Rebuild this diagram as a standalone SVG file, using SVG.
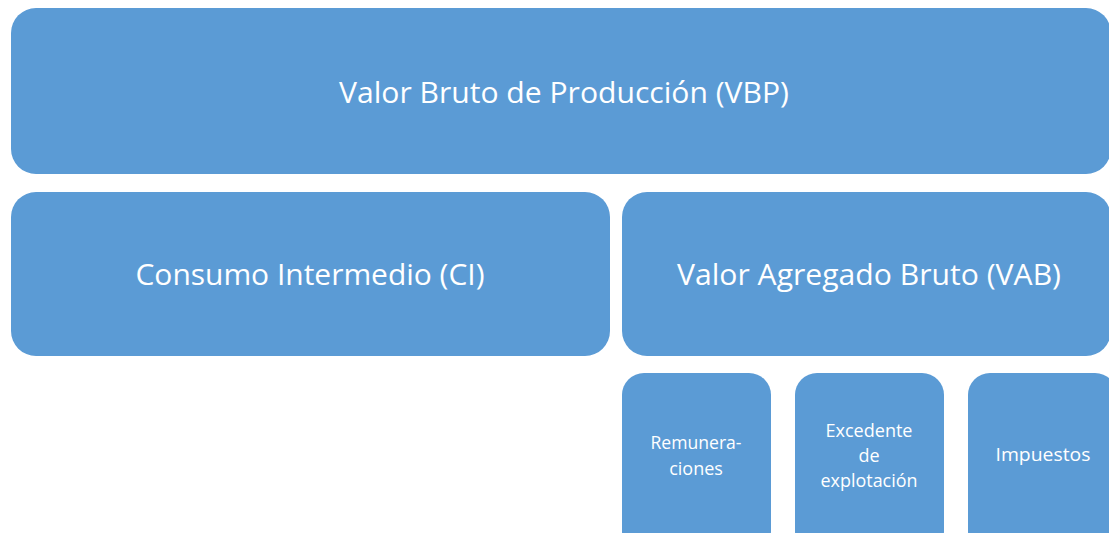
<svg xmlns="http://www.w3.org/2000/svg" width="1109" height="533" viewBox="0 0 1109 533">
<style>
.box{fill:#5B9BD5;}
.big{font-family:"Open Sans","Liberation Sans",sans-serif;font-size:29px;fill:#FFFFFF;text-anchor:middle;}
.small{font-family:"Open Sans","Liberation Sans",sans-serif;font-size:18px;fill:#FFFFFF;text-anchor:middle;}
</style>
<rect width="1109" height="533" fill="#FFFFFF"/>
<g id="vbp">
<rect class="box" x="11" y="8" width="1100" height="166" rx="25" ry="25"/>
<text class="big" x="564" y="103" textLength="450" lengthAdjust="spacingAndGlyphs">Valor Bruto de Producción (VBP)</text>
</g>
<g id="ci">
<rect class="box" x="11" y="192" width="599" height="164" rx="25" ry="25"/>
<text class="big" x="310" y="285" textLength="349" lengthAdjust="spacingAndGlyphs">Consumo Intermedio (CI)</text>
</g>
<g id="vab">
<rect class="box" x="622" y="192" width="489" height="164" rx="25" ry="25"/>
<text class="big" x="869" y="285" textLength="384" lengthAdjust="spacingAndGlyphs">Valor Agregado Bruto (VAB)</text>
</g>
<g id="remuneraciones">
<rect class="box" x="622" y="373" width="149" height="180" rx="22" ry="22"/>
<text class="small" x="696" y="449" textLength="91" lengthAdjust="spacingAndGlyphs">Remunera-</text>
<text class="small" x="696" y="475">ciones</text>
</g>
<g id="excedente">
<rect class="box" x="795" y="373" width="149" height="180" rx="22" ry="22"/>
<text class="small" x="869" y="437" textLength="87" lengthAdjust="spacingAndGlyphs">Excedente</text>
<text class="small" x="869" y="462">de</text>
<text class="small" x="869" y="487" textLength="97" lengthAdjust="spacingAndGlyphs">explotación</text>
</g>
<g id="impuestos">
<rect class="box" x="968" y="373" width="149" height="180" rx="22" ry="22"/>
<text class="small" x="1043" y="461" textLength="95" lengthAdjust="spacingAndGlyphs">Impuestos</text>
</g>
<g id="connectors"></g>
</svg>
